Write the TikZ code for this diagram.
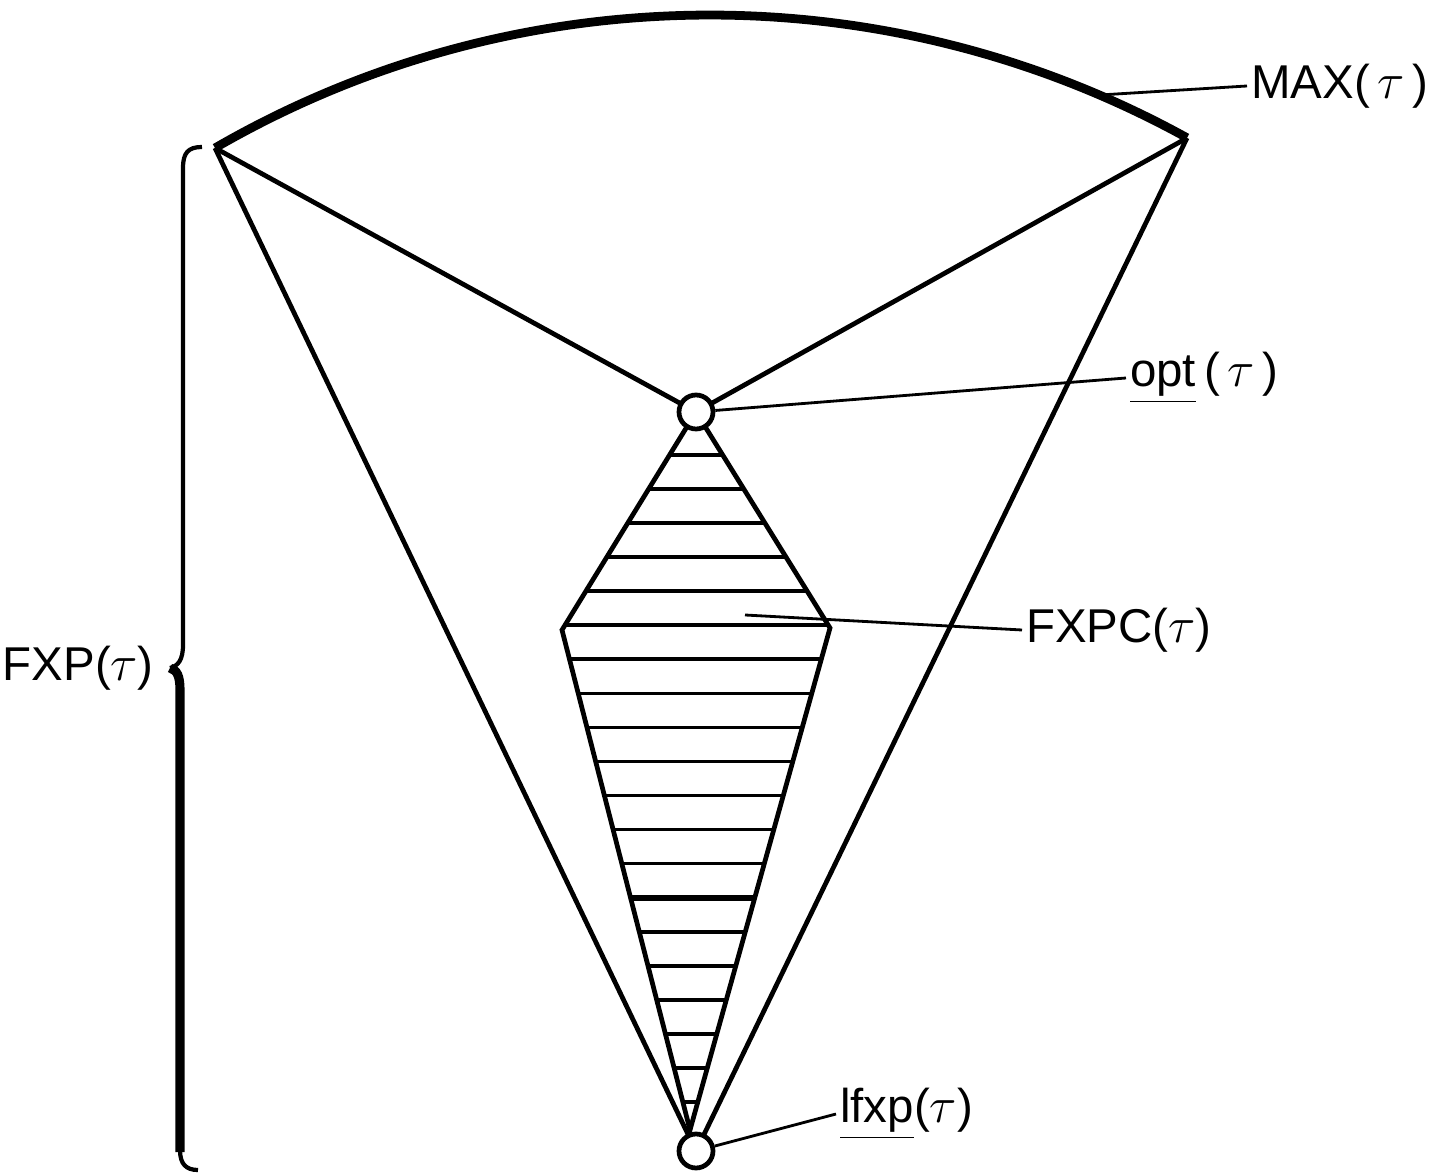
\documentclass[tikz,border=0pt]{standalone}
\usepackage{fontspec}
\setmainfont{Liberation Sans}
\usetikzlibrary{calc}

\tikzset{
  edge/.style={line width=1.35pt},
  lead/.style={line width=0.8pt},
  hatch/.style={line width=1.05pt},
  pt/.style={circle,draw,fill=white,line width=1.35pt,inner sep=0pt,minimum size=0.34cm},
  lbl/.style={anchor=west,inner sep=1pt,font=\fontsize{13.5}{16}\selectfont}
}

\begin{document}
\begin{tikzpicture}
\useasboundingbox (0,0) rectangle (14.35,-11.73);
\coordinate (L) at (2.15,-1.48); \coordinate (R) at (11.87,-1.38);
\coordinate (o) at (6.96,-4.12); \coordinate (f) at (6.96,-11.51);
\coordinate (W) at (5.62,-6.30); \coordinate (E) at (8.30,-6.28); \coordinate (B) at (6.90,-11.30);
\coordinate (m) at (11.0,-0.95); \coordinate (c) at (7.45,-6.15);
% upper boundary
\draw[line width=2.5pt] (L) arc[start angle=120.07,end angle=61.13,radius=9.88];
\draw[edge] (L) -- (o) -- (R);
\draw[edge] (L) -- (f) -- (R);
% hatched region
\begin{scope}
\clip (o) -- (W) -- (B) -- (E) -- cycle;
\foreach \k in {0,...,19} \draw[hatch] (5,{-4.55-0.3405*\k}) -- (9,{-4.55-0.3405*\k});
\draw[line width=1.7pt] (5,-8.98) -- (9,-8.98);
\end{scope}
\draw[edge] (o) -- (W) -- (B) -- (E) -- cycle;
\node[pt] (opt) at (o) {};
\node[pt] (lfxp) at (f) {};
% labels
\node[lbl] (maxl) at (12.47,-0.86) {MAX(\,$\tau$\,)};
\node[lbl] (optl) at (11.26,-3.78) {\underline{opt}\,(\,$\tau$\,)};
\node[lbl] (fxpcl) at (10.22,-6.30) {FXPC($\tau$)};
\node[lbl] (lfxpl) at (8.36,-11.14) {\underline{lfxp}($\tau$)};
\node[lbl,anchor=east] (fxpl) at (1.58,-6.68) {FXP($\tau$)};
\draw[lead] (m) -- (maxl.west);
\draw[lead] (opt) -- (optl.west);
\draw[lead] (c) -- (fxpcl.west);
\draw[lead] (lfxp) -- (lfxpl.west);
% brace
\draw[line width=1.2pt] (2.02,-1.47) .. controls (1.88,-1.47) and (1.83,-1.53) .. (1.83,-1.68) -- (1.83,-6.45) .. controls (1.83,-6.60) and (1.78,-6.66) .. (1.70,-6.68);
\draw[line width=2.6pt] (1.70,-6.68) .. controls (1.77,-6.70) and (1.80,-6.76) .. (1.80,-6.90) -- (1.80,-11.52);
\draw[line width=1.2pt] (1.80,-11.50) .. controls (1.80,-11.64) and (1.86,-11.70) .. (1.98,-11.70);
\end{tikzpicture}
\end{document}
